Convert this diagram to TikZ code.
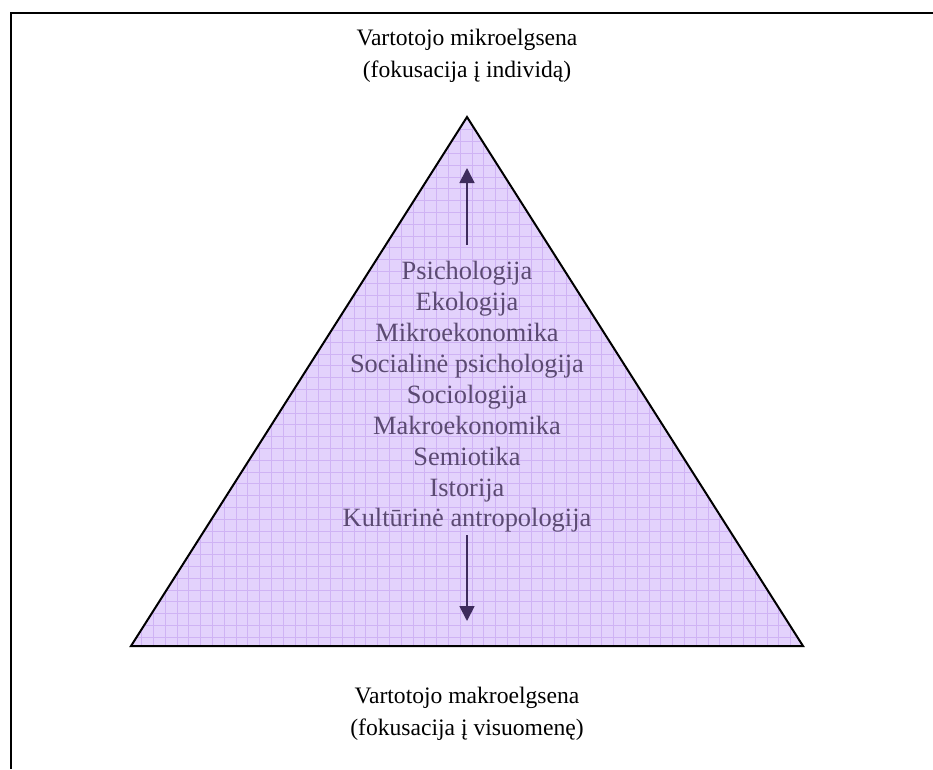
\documentclass[tikz,border=0pt]{standalone}
\usepackage{fontspec}
\setmainfont{Liberation Serif}
\usetikzlibrary{arrows.meta}
\definecolor{pyrfill}{HTML}{E3D2FC}
\definecolor{pyrgrid}{HTML}{CFB3F4}
\definecolor{pyrtext}{HTML}{5B4A72}
\definecolor{pyrarrow}{HTML}{3E2C5C}
\tikzset{
  outer label/.style={align=center, font=\fontsize{23.6}{32}\selectfont, text=black},
  field list/.style={align=center, font=\fontsize{26.4}{30.9}\selectfont, text=pyrtext},
  axis arrow/.style={draw=pyrarrow, line width=1.8pt, -{Triangle[length=15pt,width=15pt]}},
}
\begin{document}
\begin{tikzpicture}[x=1pt,y=-1pt]
  \useasboundingbox (0,0) rectangle (933,769);
  % open frame: top and left edges only
  \draw[line width=2pt] (933,13) -- (11,13) -- (11,769);
  % pyramid with a hatched grid fill
  \coordinate (apex) at (467,117);
  \coordinate (baseL) at (131,646);
  \coordinate (baseR) at (803,646);
  \fill[pyrfill] (apex) -- (baseL) -- (baseR) -- cycle;
  \begin{scope}
    \clip (apex) -- (baseL) -- (baseR) -- cycle;
    \draw[pyrgrid, line width=0.7pt] (125,110) grid[step=11.8pt] (810,650);
  \end{scope}
  \draw[line width=2pt, line join=miter] (apex) -- (baseL) -- (baseR) -- cycle;
  % labels
  \node[outer label] (micro) at (467,56) {Vartotojo mikroelgsena\\(fokusacija į individą)};
  \node[outer label] (macro) at (467,714) {Vartotojo makroelgsena\\(fokusacija į visuomenę)};
  \node[field list] (fields) at (467,397) {Psichologija\\Ekologija\\Mikroekonomika\\Socialinė psichologija\\Sociologija\\Makroekonomika\\Semiotika\\Istorija\\Kultūrinė antropologija};
  % direction arrows
  \coordinate (upfrom) at (467,245);
  \coordinate (upto) at (467,168);
  \coordinate (downfrom) at (467,535);
  \coordinate (downto) at (467,621);
  \draw[axis arrow] (upfrom) -- (upto);
  \draw[axis arrow] (downfrom) -- (downto);
\end{tikzpicture}
\end{document}
